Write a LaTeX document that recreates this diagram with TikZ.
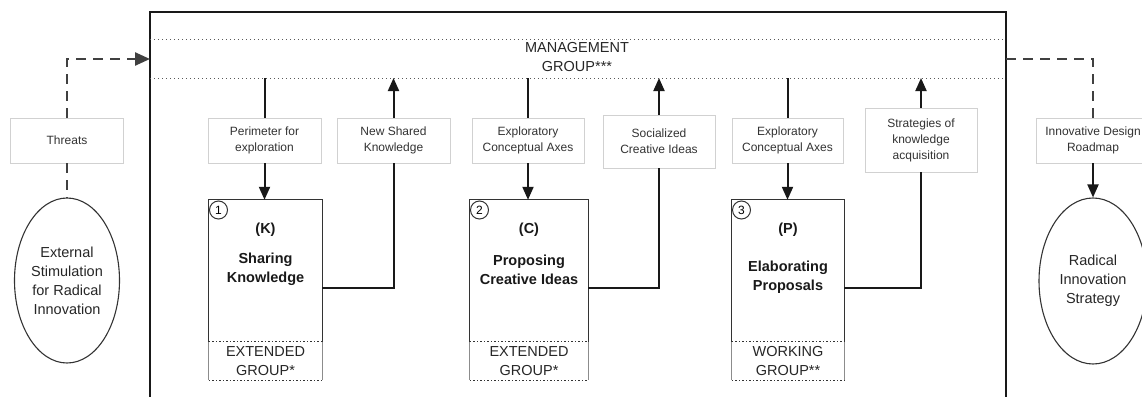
\documentclass[tikz,border=0pt]{standalone}
\usepackage{fontspec}
\setmainfont{Liberation Sans}
\usetikzlibrary{arrows.meta,shapes.geometric}
\tikzset{
  lbl/.style={draw=black!18, line width=0.8pt, fill=white, minimum width=113pt, minimum height=45pt, inner sep=0pt, align=center, font=\fontsize{12}{16}\selectfont, text=black!80},
  big/.style={font=\fontsize{14.5}{19}\selectfont, align=center, text=black!85},
  bigb/.style={font=\fontsize{14.5}{19}\selectfont\bfseries, align=center, text=black!90},
  upbox/.style={minimum width=113pt, minimum height=142pt, inner sep=0pt},
  grpbox/.style={minimum width=113pt, minimum height=38pt, inner sep=0pt, align=center, font=\fontsize{14.5}{19}\selectfont, text=black!85},
  boxline/.style={line width=1.2pt, black!80},
  conn/.style={line width=2pt, black!90},
  arr/.style={conn, -{Triangle[length=13pt,width=11pt]}},
  dashlink/.style={line width=2.4pt, black!75, dash pattern=on 10pt off 7pt},
  dasharr/.style={dashlink, -{Triangle[length=15pt,width=13pt]}},
  num/.style={circle, draw=black!80, line width=1pt, fill=white, inner sep=0pt, minimum size=18pt, font=\fontsize{12}{14}\selectfont},
  ell/.style={ellipse, draw=black!80, line width=1.1pt, inner sep=0pt, align=center, font=\fontsize{14.5}{19}\selectfont, text=black!85},
  dline/.style={black!65, line width=1pt, dash pattern=on 1pt off 3pt}
}
\begin{document}
\begin{tikzpicture}[x=1pt,y=-1pt]
\useasboundingbox (0,0) rectangle (1142,396);
\clip (0,0) rectangle (1142,396);
% main frame
\draw[line width=2pt, black!90] (150,405) -- (150,12) -- (1006,12) -- (1006,405);
% management band
\coordinate (dl1a) at (150,40); \coordinate (dl1b) at (1006,40);
\coordinate (dl) at (150,78); \coordinate (dlb) at (1006,78);
\draw[dline] (dl1a) -- (dl1b);
\draw[dline] (dl) -- (dlb);
\node[big] (mg) at (577,57) {MANAGEMENT\\GROUP***};

% left side
\node[lbl] (threats) at (67,140.5) {Threats};
\node[ell, minimum width=105pt, minimum height=165pt] (ell1) at (67,280.5) {External\\Stimulation\\for Radical\\Innovation};
\coordinate (fl) at (150,59);
\draw[dasharr] (threats.north) |- (fl);
\draw[dashlink] (threats.south) -- (ell1.north);

% right side
\node[lbl, minimum width=114pt] (idr) at (1093,140.5) {Innovative Design\\Roadmap};
\node[ell, minimum width=108pt, minimum height=166pt] (ell2) at (1093,281) {Radical\\Innovation\\Strategy};
\coordinate (fr) at (1006,59);
\draw[dashlink] (fr) -| (idr.north);
\draw[arr] (idr.south) -- (ell2.north);

% label boxes
\node[lbl] (perim) at (264.5,140.5) {Perimeter for\\exploration};
\node[lbl] (nsk) at (393.5,140.5) {New Shared\\Knowledge};
\node[lbl, minimum width=112pt] (eca1) at (528,140.5) {Exploratory\\Conceptual Axes};
\node[lbl, minimum width=112pt, minimum height=53pt] (sci) at (659,141.5) {Socialized\\Creative Ideas};
\node[lbl, minimum width=111pt] (eca2) at (787.5,140.5) {Exploratory\\Conceptual Axes};
\node[lbl, minimum width=112pt, minimum height=64pt] (strat) at (921,140) {Strategies of\\knowledge\\acquisition};

% phase boxes
\node[upbox] (k) at (265.5,271) {};
\node[grpbox] (kg) at (265.5,361) {EXTENDED\\GROUP*};
\node[upbox, minimum width=118pt] (c) at (529,271) {};
\node[grpbox, minimum width=118pt] (cg) at (529,361) {EXTENDED\\GROUP*};
\node[upbox, minimum width=112pt] (p) at (788,271) {};
\node[grpbox, minimum width=112pt] (pg) at (788,361) {WORKING\\GROUP**};

\foreach \b in {k,c,p}{
  \draw[boxline] (\b.south west) -- (\b.north west) -- (\b.north east) -- (\b.south east);
  \draw[black!45, line width=0.7pt] (\b g.north west) -- (\b g.south west) (\b g.north east) -- (\b g.south east);
  \draw[black!80, line width=1pt, dash pattern=on 1.5pt off 2pt] (\b g.north west) -- (\b g.north east) (\b g.south west) -- (\b g.south east);
}

\node[num] (k1) at (218.5,210) {1};
\node[num] (c1) at (479.5,210) {2};
\node[num] (p1) at (741.5,210) {3};

\node[bigb] (kt) at (265.5,230) {(K)};
\node[bigb] (kn) at (265.5,269.5) {Sharing\\Knowledge};
\node[bigb] (ct) at (529,230) {(C)};
\node[bigb] (cn) at (529,269.5) {Proposing\\Creative Ideas};
\node[bigb] (pt) at (788,230) {(P)};
\node[bigb] (pn) at (788,277) {Elaborating\\Proposals};

% connectors K
\draw[conn] (perim.north |- dl) -- (perim.north);
\draw[arr] (perim.south) -- (perim.south |- k.north);
\draw[conn] ([yshift=-17pt]k.east) -| (nsk.south);
\draw[arr] (nsk.north) -- (nsk.north |- dl);
% connectors C
\draw[conn] (eca1.north |- dl) -- (eca1.north);
\draw[arr] (eca1.south) -- (eca1.south |- c.north);
\draw[conn] ([yshift=-17pt]c.east) -| (sci.south);
\draw[arr] (sci.north) -- (sci.north |- dl);
% connectors P
\draw[conn] (eca2.north |- dl) -- (eca2.north);
\draw[arr] (eca2.south) -- (eca2.south |- p.north);
\draw[conn] ([yshift=-17pt]p.east) -| (strat.south);
\draw[arr] (strat.north) -- (strat.north |- dl);
\end{tikzpicture}
\end{document}
